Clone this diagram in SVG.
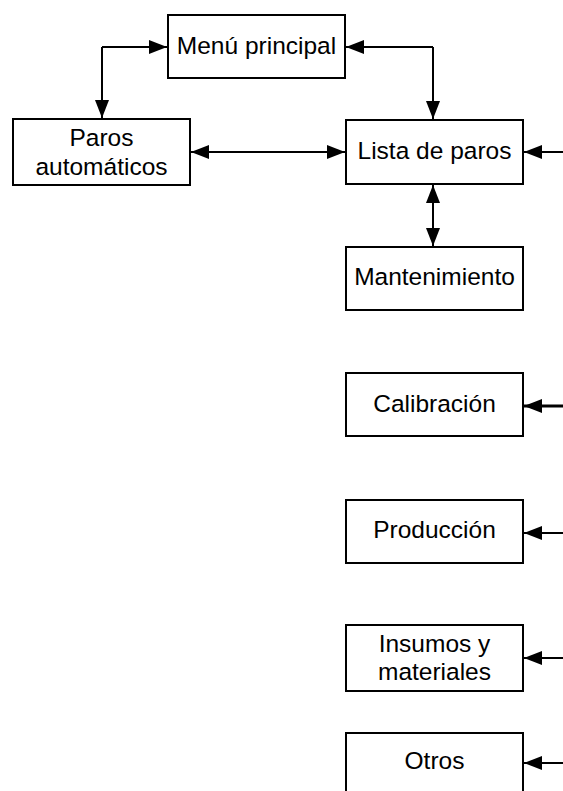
<svg xmlns="http://www.w3.org/2000/svg" width="563" height="791" viewBox="0 0 563 791">
<defs>
<style>
.box{fill:#fff;stroke:#000;stroke-width:2}
.lbl{font-family:"Liberation Sans",Arial,sans-serif;font-size:24.5px;fill:#000;text-anchor:middle;dominant-baseline:central}
.con{fill:none;stroke:#000;stroke-width:2}
</style>
<marker id="ah" markerUnits="userSpaceOnUse" markerWidth="20" markerHeight="15" refX="18" refY="7" orient="auto-start-reverse">
<path d="M0,0 L18,7 L0,14 z" fill="#000"/>
</marker>
</defs>
<rect width="563" height="791" fill="#fff"/>
<g id="connectors">
<path class="con" d="M102,47 L102,118" marker-end="url(#ah)"/>
<path class="con" d="M102,47 L167,47" marker-end="url(#ah)"/>
<path class="con" d="M433,47 L346,47" marker-end="url(#ah)"/>
<path class="con" d="M433,47 L433,119" marker-end="url(#ah)"/>
<path class="con" d="M191,152 L345,152" marker-start="url(#ah)" marker-end="url(#ah)"/>
<path class="con" d="M433,185 L433,246" marker-start="url(#ah)" marker-end="url(#ah)"/>
<path class="con" d="M563,152 L524,152" marker-end="url(#ah)"/>
<path class="con" d="M563,406 L524,406" style="stroke-width:3" marker-end="url(#ah)"/>
<path class="con" d="M563,533 L524,533" marker-end="url(#ah)"/>
<path class="con" d="M563,658 L524,658" marker-end="url(#ah)"/>
<path class="con" d="M563,763 L524,763" marker-end="url(#ah)"/>
</g>
<g id="menu"><rect class="box" x="168" y="15" width="177" height="63"/><text class="lbl" x="256.5" y="45">Menú principal</text></g>
<g id="paros-auto"><rect class="box" x="13" y="119" width="177" height="66"/><text class="lbl" x="101.5" y="137">Paros</text><text class="lbl" x="101.5" y="166">automáticos</text></g>
<g id="lista"><rect class="box" x="346" y="120" width="177" height="64"/><text class="lbl" x="434.5" y="150">Lista de paros</text></g>
<g id="mantenimiento"><rect class="box" x="346" y="247" width="177" height="63"/><text class="lbl" x="434.5" y="276">Mantenimiento</text></g>
<g id="calibracion"><rect class="box" x="346" y="373" width="177" height="63"/><text class="lbl" x="434.5" y="403">Calibración</text></g>
<g id="produccion"><rect class="box" x="346" y="500" width="177" height="63"/><text class="lbl" x="434.5" y="529">Producción</text></g>
<g id="insumos"><rect class="box" x="346" y="625" width="177" height="66"/><text class="lbl" x="434.5" y="643">Insumos y</text><text class="lbl" x="434.5" y="671">materiales</text></g>
<g id="otros"><rect class="box" x="346" y="733" width="177" height="64"/><text class="lbl" x="434.5" y="760">Otros</text></g>
</svg>
